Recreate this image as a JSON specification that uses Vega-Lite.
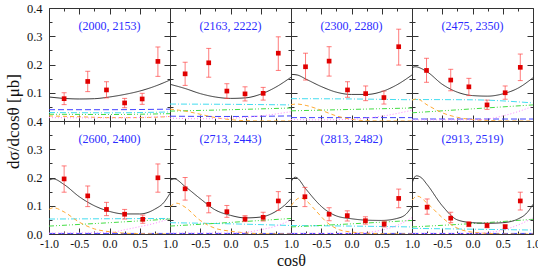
{
"$schema":"https://vega.github.io/schema/vega-lite/v6.json",
"background":"white",
"padding":{"left":3,"top":1,"right":0,"bottom":0},
"datasets":{
"curves":[
{"p":1,"s":"bl","c":-1,"v":0.040},{"p":1,"s":"bl","c":0,"v":0.040},{"p":1,"s":"bl","c":1,"v":0.042},
{"p":1,"s":"cy","c":-1,"v":0.030},{"p":1,"s":"cy","c":0,"v":0.029},{"p":1,"s":"cy","c":1,"v":0.032},
{"p":1,"s":"gr","c":-1,"v":0.024},{"p":1,"s":"gr","c":0,"v":0.023},{"p":1,"s":"gr","c":1,"v":0.026},
{"p":1,"s":"or","c":-1,"v":0.018},{"p":1,"s":"or","c":-0.5,"v":0.015},{"p":1,"s":"or","c":0,"v":0.012},{"p":1,"s":"or","c":0.5,"v":0.012},{"p":1,"s":"or","c":1,"v":0.016},
{"p":1,"s":"pk","c":-1,"v":0.012},{"p":1,"s":"pk","c":0,"v":0.011},{"p":1,"s":"pk","c":1,"v":0.016},
{"p":1,"s":"k","c":-1,"v":0.085},{"p":1,"s":"k","c":-0.75,"v":0.080},{"p":1,"s":"k","c":-0.5,"v":0.078},{"p":1,"s":"k","c":-0.25,"v":0.079},{"p":1,"s":"k","c":0,"v":0.085},{"p":1,"s":"k","c":0.25,"v":0.094},{"p":1,"s":"k","c":0.5,"v":0.106},{"p":1,"s":"k","c":0.75,"v":0.123},{"p":1,"s":"k","c":1,"v":0.145},

{"p":2,"s":"bl","c":-1,"v":0.017},{"p":2,"s":"bl","c":0,"v":0.016},{"p":2,"s":"bl","c":1,"v":0.018},
{"p":2,"s":"cy","c":-1,"v":0.060},{"p":2,"s":"cy","c":0,"v":0.059},{"p":2,"s":"cy","c":1,"v":0.057},
{"p":2,"s":"gr","c":-1,"v":0.035},{"p":2,"s":"gr","c":0,"v":0.040},{"p":2,"s":"gr","c":1,"v":0.046},
{"p":2,"s":"or","c":-1,"v":0.042},{"p":2,"s":"or","c":-0.75,"v":0.035},{"p":2,"s":"or","c":-0.5,"v":0.024},{"p":2,"s":"or","c":-0.25,"v":0.012},{"p":2,"s":"or","c":0,"v":0.005},{"p":2,"s":"or","c":0.25,"v":0.001},{"p":2,"s":"or","c":0.5,"v":0},{"p":2,"s":"or","c":1,"v":0},
{"p":2,"s":"pk","c":-1,"v":0.010},{"p":2,"s":"pk","c":-0.5,"v":0.008},{"p":2,"s":"pk","c":0,"v":0.010},{"p":2,"s":"pk","c":0.5,"v":0.018},{"p":2,"s":"pk","c":1,"v":0.033},
{"p":2,"s":"k","c":-1,"v":0.130},{"p":2,"s":"k","c":-0.75,"v":0.115},{"p":2,"s":"k","c":-0.5,"v":0.097},{"p":2,"s":"k","c":-0.25,"v":0.085},{"p":2,"s":"k","c":0,"v":0.080},{"p":2,"s":"k","c":0.25,"v":0.082},{"p":2,"s":"k","c":0.5,"v":0.095},{"p":2,"s":"k","c":0.75,"v":0.120},{"p":2,"s":"k","c":1,"v":0.155},

{"p":3,"s":"bl","c":-1,"v":0.012},{"p":3,"s":"bl","c":0,"v":0.012},{"p":3,"s":"bl","c":1,"v":0.012},
{"p":3,"s":"cy","c":-1,"v":0.079},{"p":3,"s":"cy","c":0,"v":0.078},{"p":3,"s":"cy","c":1,"v":0.075},
{"p":3,"s":"gr","c":-1,"v":0.036},{"p":3,"s":"gr","c":0,"v":0.041},{"p":3,"s":"gr","c":1,"v":0.046},
{"p":3,"s":"or","c":-1,"v":0.058},{"p":3,"s":"or","c":-0.9,"v":0.060},{"p":3,"s":"or","c":-0.75,"v":0.055},{"p":3,"s":"or","c":-0.5,"v":0.038},{"p":3,"s":"or","c":-0.25,"v":0.018},{"p":3,"s":"or","c":0,"v":0.006},{"p":3,"s":"or","c":0.25,"v":0.001},{"p":3,"s":"or","c":0.5,"v":0},{"p":3,"s":"or","c":1,"v":0},
{"p":3,"s":"pk","c":-1,"v":0.005},{"p":3,"s":"pk","c":-0.5,"v":0.004},{"p":3,"s":"pk","c":0,"v":0.006},{"p":3,"s":"pk","c":0.5,"v":0.017},{"p":3,"s":"pk","c":1,"v":0.038},
{"p":3,"s":"k","c":-1,"v":0.165},{"p":3,"s":"k","c":-0.9,"v":0.163},{"p":3,"s":"k","c":-0.75,"v":0.148},{"p":3,"s":"k","c":-0.5,"v":0.122},{"p":3,"s":"k","c":-0.25,"v":0.102},{"p":3,"s":"k","c":0,"v":0.094},{"p":3,"s":"k","c":0.25,"v":0.094},{"p":3,"s":"k","c":0.5,"v":0.104},{"p":3,"s":"k","c":0.75,"v":0.128},{"p":3,"s":"k","c":1,"v":0.163},

{"p":4,"s":"bl","c":-1,"v":0.007},{"p":4,"s":"bl","c":0,"v":0.007},{"p":4,"s":"bl","c":1,"v":0.007},
{"p":4,"s":"cy","c":-1,"v":0.076},{"p":4,"s":"cy","c":0,"v":0.075},{"p":4,"s":"cy","c":1,"v":0.064},
{"p":4,"s":"gr","c":-1,"v":0.029},{"p":4,"s":"gr","c":0,"v":0.043},{"p":4,"s":"gr","c":1,"v":0.057},
{"p":4,"s":"or","c":-1,"v":0.074},{"p":4,"s":"or","c":-0.92,"v":0.078},{"p":4,"s":"or","c":-0.75,"v":0.057},{"p":4,"s":"or","c":-0.5,"v":0.029},{"p":4,"s":"or","c":-0.25,"v":0.013},{"p":4,"s":"or","c":0,"v":0.005},{"p":4,"s":"or","c":0.25,"v":0.002},{"p":4,"s":"or","c":0.5,"v":0},{"p":4,"s":"or","c":1,"v":0},
{"p":4,"s":"pk","c":-1,"v":0.004},{"p":4,"s":"pk","c":0,"v":0.004},{"p":4,"s":"pk","c":0.25,"v":0.007},{"p":4,"s":"pk","c":0.5,"v":0.018},{"p":4,"s":"pk","c":0.75,"v":0.033},{"p":4,"s":"pk","c":1,"v":0.052},
{"p":4,"s":"k","c":-1,"v":0.188},{"p":4,"s":"k","c":-0.95,"v":0.192},{"p":4,"s":"k","c":-0.75,"v":0.174},{"p":4,"s":"k","c":-0.5,"v":0.130},{"p":4,"s":"k","c":-0.25,"v":0.102},{"p":4,"s":"k","c":0,"v":0.090},{"p":4,"s":"k","c":0.25,"v":0.088},{"p":4,"s":"k","c":0.5,"v":0.096},{"p":4,"s":"k","c":0.75,"v":0.116},{"p":4,"s":"k","c":1,"v":0.153},

{"p":5,"s":"bl","c":-1,"v":0.002},{"p":5,"s":"bl","c":1,"v":0.002},
{"p":5,"s":"cy","c":-1,"v":0.053},{"p":5,"s":"cy","c":0,"v":0.054},{"p":5,"s":"cy","c":1,"v":0.055},
{"p":5,"s":"gr","c":-1,"v":0.028},{"p":5,"s":"gr","c":0,"v":0.040},{"p":5,"s":"gr","c":1,"v":0.053},
{"p":5,"s":"or","c":-1,"v":0.087},{"p":5,"s":"or","c":-0.93,"v":0.093},{"p":5,"s":"or","c":-0.75,"v":0.078},{"p":5,"s":"or","c":-0.5,"v":0.042},{"p":5,"s":"or","c":-0.25,"v":0.018},{"p":5,"s":"or","c":0,"v":0.008},{"p":5,"s":"or","c":0.25,"v":0.003},{"p":5,"s":"or","c":0.5,"v":0.001},{"p":5,"s":"or","c":1,"v":0},
{"p":5,"s":"pk","c":-1,"v":0.003},{"p":5,"s":"pk","c":0,"v":0.005},{"p":5,"s":"pk","c":0.25,"v":0.015},{"p":5,"s":"pk","c":0.5,"v":0.026},{"p":5,"s":"pk","c":0.75,"v":0.038},{"p":5,"s":"pk","c":1,"v":0.055},
{"p":5,"s":"k","c":-1,"v":0.190},{"p":5,"s":"k","c":-0.93,"v":0.195},{"p":5,"s":"k","c":-0.75,"v":0.175},{"p":5,"s":"k","c":-0.5,"v":0.132},{"p":5,"s":"k","c":-0.25,"v":0.100},{"p":5,"s":"k","c":0,"v":0.080},{"p":5,"s":"k","c":0.25,"v":0.071},{"p":5,"s":"k","c":0.5,"v":0.071},{"p":5,"s":"k","c":0.75,"v":0.088},{"p":5,"s":"k","c":0.9,"v":0.112},{"p":5,"s":"k","c":1,"v":0.144},

{"p":6,"s":"bl","c":-1,"v":0.002},{"p":6,"s":"bl","c":1,"v":0.002},
{"p":6,"s":"cy","c":-1,"v":0.040},{"p":6,"s":"cy","c":0,"v":0.036},{"p":6,"s":"cy","c":1,"v":0.030},
{"p":6,"s":"gr","c":-1,"v":0.028},{"p":6,"s":"gr","c":0,"v":0.041},{"p":6,"s":"gr","c":1,"v":0.055},
{"p":6,"s":"or","c":-1,"v":0.097},{"p":6,"s":"or","c":-0.89,"v":0.109},{"p":6,"s":"or","c":-0.75,"v":0.095},{"p":6,"s":"or","c":-0.5,"v":0.048},{"p":6,"s":"or","c":-0.25,"v":0.020},{"p":6,"s":"or","c":0,"v":0.010},{"p":6,"s":"or","c":0.25,"v":0.004},{"p":6,"s":"or","c":0.5,"v":0.001},{"p":6,"s":"or","c":1,"v":0},
{"p":6,"s":"pk","c":-1,"v":0.003},{"p":6,"s":"pk","c":0,"v":0.003},{"p":6,"s":"pk","c":0.25,"v":0.006},{"p":6,"s":"pk","c":0.5,"v":0.015},{"p":6,"s":"pk","c":0.75,"v":0.028},{"p":6,"s":"pk","c":1,"v":0.050},
{"p":6,"s":"k","c":-1,"v":0.190},{"p":6,"s":"k","c":-0.93,"v":0.195},{"p":6,"s":"k","c":-0.75,"v":0.168},{"p":6,"s":"k","c":-0.5,"v":0.125},{"p":6,"s":"k","c":-0.25,"v":0.085},{"p":6,"s":"k","c":0,"v":0.066},{"p":6,"s":"k","c":0.25,"v":0.057},{"p":6,"s":"k","c":0.5,"v":0.060},{"p":6,"s":"k","c":0.75,"v":0.080},{"p":6,"s":"k","c":0.9,"v":0.103},{"p":6,"s":"k","c":1,"v":0.125},

{"p":7,"s":"bl","c":-1,"v":0.002},{"p":7,"s":"bl","c":1,"v":0.002},
{"p":7,"s":"cy","c":-1,"v":0.030},{"p":7,"s":"cy","c":0,"v":0.028},{"p":7,"s":"cy","c":1,"v":0.025},
{"p":7,"s":"gr","c":-1,"v":0.025},{"p":7,"s":"gr","c":0,"v":0.036},{"p":7,"s":"gr","c":1,"v":0.048},
{"p":7,"s":"or","c":-1,"v":0.100},{"p":7,"s":"or","c":-0.85,"v":0.128},{"p":7,"s":"or","c":-0.75,"v":0.118},{"p":7,"s":"or","c":-0.6,"v":0.085},{"p":7,"s":"or","c":-0.4,"v":0.040},{"p":7,"s":"or","c":-0.2,"v":0.015},{"p":7,"s":"or","c":0,"v":0.007},{"p":7,"s":"or","c":0.25,"v":0.003},{"p":7,"s":"or","c":0.5,"v":0.001},{"p":7,"s":"or","c":1,"v":0},
{"p":7,"s":"pk","c":-1,"v":0.002},{"p":7,"s":"pk","c":0,"v":0.002},{"p":7,"s":"pk","c":0.25,"v":0.005},{"p":7,"s":"pk","c":0.5,"v":0.014},{"p":7,"s":"pk","c":0.75,"v":0.030},{"p":7,"s":"pk","c":1,"v":0.058},
{"p":7,"s":"k","c":-1,"v":0.185},{"p":7,"s":"k","c":-0.93,"v":0.201},{"p":7,"s":"k","c":-0.75,"v":0.158},{"p":7,"s":"k","c":-0.6,"v":0.120},{"p":7,"s":"k","c":-0.5,"v":0.098},{"p":7,"s":"k","c":-0.25,"v":0.064},{"p":7,"s":"k","c":0,"v":0.054},{"p":7,"s":"k","c":0.25,"v":0.049},{"p":7,"s":"k","c":0.5,"v":0.048},{"p":7,"s":"k","c":0.75,"v":0.055},{"p":7,"s":"k","c":0.9,"v":0.070},{"p":7,"s":"k","c":1,"v":0.097},

{"p":8,"s":"bl","c":-1,"v":0.002},{"p":8,"s":"bl","c":1,"v":0.002},
{"p":8,"s":"cy","c":-1,"v":0.020},{"p":8,"s":"cy","c":0,"v":0.017},{"p":8,"s":"cy","c":1,"v":0.014},
{"p":8,"s":"gr","c":-1,"v":0.025},{"p":8,"s":"gr","c":0,"v":0.037},{"p":8,"s":"gr","c":1,"v":0.052},
{"p":8,"s":"or","c":-1,"v":0.120},{"p":8,"s":"or","c":-0.91,"v":0.134},{"p":8,"s":"or","c":-0.75,"v":0.109},{"p":8,"s":"or","c":-0.5,"v":0.058},{"p":8,"s":"or","c":-0.3,"v":0.026},{"p":8,"s":"or","c":-0.1,"v":0.010},{"p":8,"s":"or","c":0.25,"v":0.002},{"p":8,"s":"or","c":0.5,"v":0},{"p":8,"s":"or","c":1,"v":0},
{"p":8,"s":"pk","c":-1,"v":0.002},{"p":8,"s":"pk","c":0,"v":0.002},{"p":8,"s":"pk","c":0.3,"v":0.006},{"p":8,"s":"pk","c":0.6,"v":0.020},{"p":8,"s":"pk","c":0.8,"v":0.036},{"p":8,"s":"pk","c":1,"v":0.057},
{"p":8,"s":"k","c":-1,"v":0.180},{"p":8,"s":"k","c":-0.93,"v":0.206},{"p":8,"s":"k","c":-0.85,"v":0.200},{"p":8,"s":"k","c":-0.75,"v":0.175},{"p":8,"s":"k","c":-0.5,"v":0.100},{"p":8,"s":"k","c":-0.25,"v":0.050},{"p":8,"s":"k","c":0,"v":0.040},{"p":8,"s":"k","c":0.25,"v":0.038},{"p":8,"s":"k","c":0.5,"v":0.040},{"p":8,"s":"k","c":0.75,"v":0.053},{"p":8,"s":"k","c":0.9,"v":0.075},{"p":8,"s":"k","c":1,"v":0.105}
],
"pts":[
{"p":1,"c":-0.75,"v":0.079,"lo":0.058,"hi":0.100},{"p":1,"c":-0.36,"v":0.140,"lo":0.104,"hi":0.176},{"p":1,"c":-0.05,"v":0.110,"lo":0.082,"hi":0.139},{"p":1,"c":0.25,"v":0.064,"lo":0.047,"hi":0.080},{"p":1,"c":0.54,"v":0.078,"lo":0.059,"hi":0.098},{"p":1,"c":0.8,"v":0.211,"lo":0.158,"hi":0.262},
{"p":2,"c":-0.75,"v":0.167,"lo":0.126,"hi":0.208},{"p":2,"c":-0.36,"v":0.206,"lo":0.155,"hi":0.257},{"p":2,"c":-0.06,"v":0.106,"lo":0.080,"hi":0.132},{"p":2,"c":0.24,"v":0.096,"lo":0.071,"hi":0.121},{"p":2,"c":0.54,"v":0.098,"lo":0.074,"hi":0.119},{"p":2,"c":0.79,"v":0.240,"lo":0.179,"hi":0.298},
{"p":3,"c":-0.76,"v":0.192,"lo":0.145,"hi":0.240},{"p":3,"c":-0.37,"v":0.212,"lo":0.159,"hi":0.263},{"p":3,"c":-0.066,"v":0.110,"lo":0.084,"hi":0.139},{"p":3,"c":0.234,"v":0.097,"lo":0.072,"hi":0.124},{"p":3,"c":0.536,"v":0.083,"lo":0.060,"hi":0.106},{"p":3,"c":0.78,"v":0.263,"lo":0.198,"hi":0.325},
{"p":4,"c":-0.76,"v":0.179,"lo":0.137,"hi":0.222},{"p":4,"c":-0.36,"v":0.145,"lo":0.107,"hi":0.183},{"p":4,"c":-0.06,"v":0.121,"lo":0.090,"hi":0.151},{"p":4,"c":0.24,"v":0.057,"lo":0.041,"hi":0.074},{"p":4,"c":0.54,"v":0.100,"lo":0.077,"hi":0.124},{"p":4,"c":0.79,"v":0.190,"lo":0.143,"hi":0.237},
{"p":5,"c":-0.75,"v":0.195,"lo":0.148,"hi":0.241},{"p":5,"c":-0.36,"v":0.135,"lo":0.097,"hi":0.170},{"p":5,"c":-0.05,"v":0.087,"lo":0.065,"hi":0.112},{"p":5,"c":0.25,"v":0.070,"lo":0.053,"hi":0.087},{"p":5,"c":0.55,"v":0.052,"lo":0.038,"hi":0.067},{"p":5,"c":0.8,"v":0.199,"lo":0.148,"hi":0.248},
{"p":6,"c":-0.75,"v":0.160,"lo":0.120,"hi":0.200},{"p":6,"c":-0.36,"v":0.105,"lo":0.075,"hi":0.135},{"p":6,"c":-0.06,"v":0.079,"lo":0.059,"hi":0.101},{"p":6,"c":0.24,"v":0.053,"lo":0.044,"hi":0.065},{"p":6,"c":0.54,"v":0.059,"lo":0.046,"hi":0.077},{"p":6,"c":0.79,"v":0.117,"lo":0.083,"hi":0.150},
{"p":7,"c":-0.77,"v":0.132,"lo":0.097,"hi":0.165},{"p":7,"c":-0.37,"v":0.070,"lo":0.047,"hi":0.093},{"p":7,"c":-0.07,"v":0.065,"lo":0.046,"hi":0.082},{"p":7,"c":0.23,"v":0.047,"lo":0.035,"hi":0.061},{"p":7,"c":0.54,"v":0.035,"lo":0.025,"hi":0.046},{"p":7,"c":0.78,"v":0.126,"lo":0.093,"hi":0.159},
{"p":8,"c":-0.75,"v":0.095,"lo":0.070,"hi":0.124},{"p":8,"c":-0.36,"v":0.056,"lo":0.040,"hi":0.077},{"p":8,"c":-0.06,"v":0.034,"lo":0.026,"hi":0.044},{"p":8,"c":0.24,"v":0.030,"lo":0.022,"hi":0.038},{"p":8,"c":0.54,"v":0.026,"lo":0.019,"hi":0.032},{"p":8,"c":0.79,"v":0.117,"lo":0.085,"hi":0.148}
],
"labels":[
{"p":1,"lab":"(2000, 2153)"},{"p":2,"lab":"(2163, 2222)"},{"p":3,"lab":"(2300, 2280)"},{"p":4,"lab":"(2475, 2350)"},
{"p":5,"lab":"(2600, 2400)"},{"p":6,"lab":"(2713, 2443)"},{"p":7,"lab":"(2813, 2482)"},{"p":8,"lab":"(2913, 2519)"}
]
},
"columns":4,
"spacing":0,
"bounds":"flush",
"concat":[
{"width":121,"height":113,"layer":[
{"data":{"name":"curves"},"transform":[{"filter":"datum.p==1"}],"mark":{"type":"line","interpolate":"monotone","strokeWidth":1,"clip":true},
"encoding":{"x":{"field":"c","type":"quantitative","scale":{"domain":[-1,1],"nice":false,"zero":false},"axis":{"orient":"bottom","values":[-1,-0.75,-0.5,-0.25,0,0.25,0.5,0.75,1],"labels":false,"title":null,"tickSize":{"condition":{"test":"abs(datum.value*2-round(datum.value*2))<0.001","value":-6},"value":-3}}},
"y":{"field":"v","type":"quantitative","scale":{"domain":[0,0.4],"nice":false,"zero":false},"axis":{"orient":"left","values":[0,0.05,0.1,0.15,0.2,0.25,0.3,0.35,0.4],"labelExpr":"datum.value<0.01 || abs(datum.value*10-round(datum.value*10))>0.001 ? '' : format(datum.value,'.1f')","title":"dσ/dcosθ [μb]","titleY":113,"titleFontSize":17,"tickSize":{"condition":{"test":"abs(datum.value*10-round(datum.value*10))<0.001","value":-6},"value":-3}}},
"color":{"field":"s","type":"nominal","scale":{"domain":["bl","cy","gr","or","pk","k"],"range":["#4444ff","#44ddf0","#44dd44","#ffaa33","#ff88ff","#333333"]},"legend":null},
"strokeDash":{"field":"s","type":"nominal","scale":{"domain":["bl","cy","gr","or","pk","k"],"range":[[6,3],[6,2,1,2],[5,2,1,2,1,2],[4,3],[1,2],[1,0]]},"legend":null}}},
{"data":{"name":"pts"},"transform":[{"filter":"datum.p==1"}],"mark":{"type":"errorbar","ticks":true,"color":"#ff4444","opacity":0.7},"encoding":{"x":{"field":"c","type":"quantitative","axis":null},"y":{"field":"lo","type":"quantitative","axis":null},"y2":{"field":"hi"}}},
{"data":{"name":"pts"},"transform":[{"filter":"datum.p==1"}],"mark":{"type":"point","shape":"square","filled":true,"size":22,"color":"#e00000","opacity":1},"encoding":{"x":{"field":"c","type":"quantitative","axis":null},"y":{"field":"v","type":"quantitative","axis":null}}},
{"data":{"name":"labels"},"transform":[{"filter":"datum.p==1"}],"mark":{"type":"text","font":"Liberation Serif","fontSize":12,"color":"#2b2bff"},"encoding":{"text":{"field":"lab"},
"x":{"datum":0,"type":"quantitative","axis":{"orient":"top","values":[-1,-0.75,-0.5,-0.25,0,0.25,0.5,0.75,1],"labels":false,"title":null,"tickSize":{"condition":{"test":"abs(datum.value*2-round(datum.value*2))<0.001","value":-6},"value":-3}}},
"y":{"datum":0.335,"type":"quantitative","axis":{"orient":"right","values":[0,0.05,0.1,0.15,0.2,0.25,0.3,0.35,0.4],"labels":false,"title":null,"tickSize":{"condition":{"test":"abs(datum.value*10-round(datum.value*10))<0.001","value":-6},"value":-3}}}}}
],"resolve":{"axis":{"x":"independent","y":"independent"}}},

{"width":121,"height":113,"layer":[
{"data":{"name":"curves"},"transform":[{"filter":"datum.p==2"}],"mark":{"type":"line","interpolate":"monotone","strokeWidth":1,"clip":true},
"encoding":{"x":{"field":"c","type":"quantitative","scale":{"domain":[-1,1],"nice":false,"zero":false},"axis":{"orient":"bottom","values":[-1,-0.75,-0.5,-0.25,0,0.25,0.5,0.75,1],"labels":false,"title":null,"tickSize":{"condition":{"test":"abs(datum.value*2-round(datum.value*2))<0.001","value":-6},"value":-3}}},
"y":{"field":"v","type":"quantitative","scale":{"domain":[0,0.4],"nice":false,"zero":false},"axis":{"orient":"left","values":[0,0.05,0.1,0.15,0.2,0.25,0.3,0.35,0.4],"labels":false,"title":null,"tickSize":{"condition":{"test":"abs(datum.value*10-round(datum.value*10))<0.001","value":-6},"value":-3}}},
"color":{"field":"s","type":"nominal","scale":{"domain":["bl","cy","gr","or","pk","k"],"range":["#4444ff","#44ddf0","#44dd44","#ffaa33","#ff88ff","#333333"]},"legend":null},
"strokeDash":{"field":"s","type":"nominal","scale":{"domain":["bl","cy","gr","or","pk","k"],"range":[[6,3],[6,2,1,2],[5,2,1,2,1,2],[4,3],[1,2],[1,0]]},"legend":null}}},
{"data":{"name":"pts"},"transform":[{"filter":"datum.p==2"}],"mark":{"type":"errorbar","ticks":true,"color":"#ff4444","opacity":0.7},"encoding":{"x":{"field":"c","type":"quantitative","axis":null},"y":{"field":"lo","type":"quantitative","axis":null},"y2":{"field":"hi"}}},
{"data":{"name":"pts"},"transform":[{"filter":"datum.p==2"}],"mark":{"type":"point","shape":"square","filled":true,"size":22,"color":"#e00000","opacity":1},"encoding":{"x":{"field":"c","type":"quantitative","axis":null},"y":{"field":"v","type":"quantitative","axis":null}}},
{"data":{"name":"labels"},"transform":[{"filter":"datum.p==2"}],"mark":{"type":"text","font":"Liberation Serif","fontSize":12,"color":"#2b2bff"},"encoding":{"text":{"field":"lab"},
"x":{"datum":0,"type":"quantitative","axis":{"orient":"top","values":[-1,-0.75,-0.5,-0.25,0,0.25,0.5,0.75,1],"labels":false,"title":null,"tickSize":{"condition":{"test":"abs(datum.value*2-round(datum.value*2))<0.001","value":-6},"value":-3}}},
"y":{"datum":0.335,"type":"quantitative","axis":{"orient":"right","values":[0,0.05,0.1,0.15,0.2,0.25,0.3,0.35,0.4],"labels":false,"title":null,"tickSize":{"condition":{"test":"abs(datum.value*10-round(datum.value*10))<0.001","value":-6},"value":-3}}}}}
],"resolve":{"axis":{"x":"independent","y":"independent"}}},

{"width":121,"height":113,"layer":[
{"data":{"name":"curves"},"transform":[{"filter":"datum.p==3"}],"mark":{"type":"line","interpolate":"monotone","strokeWidth":1,"clip":true},
"encoding":{"x":{"field":"c","type":"quantitative","scale":{"domain":[-1,1],"nice":false,"zero":false},"axis":{"orient":"bottom","values":[-1,-0.75,-0.5,-0.25,0,0.25,0.5,0.75,1],"labels":false,"title":null,"tickSize":{"condition":{"test":"abs(datum.value*2-round(datum.value*2))<0.001","value":-6},"value":-3}}},
"y":{"field":"v","type":"quantitative","scale":{"domain":[0,0.4],"nice":false,"zero":false},"axis":{"orient":"left","values":[0,0.05,0.1,0.15,0.2,0.25,0.3,0.35,0.4],"labels":false,"title":null,"tickSize":{"condition":{"test":"abs(datum.value*10-round(datum.value*10))<0.001","value":-6},"value":-3}}},
"color":{"field":"s","type":"nominal","scale":{"domain":["bl","cy","gr","or","pk","k"],"range":["#4444ff","#44ddf0","#44dd44","#ffaa33","#ff88ff","#333333"]},"legend":null},
"strokeDash":{"field":"s","type":"nominal","scale":{"domain":["bl","cy","gr","or","pk","k"],"range":[[6,3],[6,2,1,2],[5,2,1,2,1,2],[4,3],[1,2],[1,0]]},"legend":null}}},
{"data":{"name":"pts"},"transform":[{"filter":"datum.p==3"}],"mark":{"type":"errorbar","ticks":true,"color":"#ff4444","opacity":0.7},"encoding":{"x":{"field":"c","type":"quantitative","axis":null},"y":{"field":"lo","type":"quantitative","axis":null},"y2":{"field":"hi"}}},
{"data":{"name":"pts"},"transform":[{"filter":"datum.p==3"}],"mark":{"type":"point","shape":"square","filled":true,"size":22,"color":"#e00000","opacity":1},"encoding":{"x":{"field":"c","type":"quantitative","axis":null},"y":{"field":"v","type":"quantitative","axis":null}}},
{"data":{"name":"labels"},"transform":[{"filter":"datum.p==3"}],"mark":{"type":"text","font":"Liberation Serif","fontSize":12,"color":"#2b2bff"},"encoding":{"text":{"field":"lab"},
"x":{"datum":0,"type":"quantitative","axis":{"orient":"top","values":[-1,-0.75,-0.5,-0.25,0,0.25,0.5,0.75,1],"labels":false,"title":null,"tickSize":{"condition":{"test":"abs(datum.value*2-round(datum.value*2))<0.001","value":-6},"value":-3}}},
"y":{"datum":0.335,"type":"quantitative","axis":{"orient":"right","values":[0,0.05,0.1,0.15,0.2,0.25,0.3,0.35,0.4],"labels":false,"title":null,"tickSize":{"condition":{"test":"abs(datum.value*10-round(datum.value*10))<0.001","value":-6},"value":-3}}}}}
],"resolve":{"axis":{"x":"independent","y":"independent"}}},

{"width":121,"height":113,"layer":[
{"data":{"name":"curves"},"transform":[{"filter":"datum.p==4"}],"mark":{"type":"line","interpolate":"monotone","strokeWidth":1,"clip":true},
"encoding":{"x":{"field":"c","type":"quantitative","scale":{"domain":[-1,1],"nice":false,"zero":false},"axis":{"orient":"bottom","values":[-1,-0.75,-0.5,-0.25,0,0.25,0.5,0.75,1],"labels":false,"title":null,"tickSize":{"condition":{"test":"abs(datum.value*2-round(datum.value*2))<0.001","value":-6},"value":-3}}},
"y":{"field":"v","type":"quantitative","scale":{"domain":[0,0.4],"nice":false,"zero":false},"axis":{"orient":"left","values":[0,0.05,0.1,0.15,0.2,0.25,0.3,0.35,0.4],"labels":false,"title":null,"tickSize":{"condition":{"test":"abs(datum.value*10-round(datum.value*10))<0.001","value":-6},"value":-3}}},
"color":{"field":"s","type":"nominal","scale":{"domain":["bl","cy","gr","or","pk","k"],"range":["#4444ff","#44ddf0","#44dd44","#ffaa33","#ff88ff","#333333"]},"legend":null},
"strokeDash":{"field":"s","type":"nominal","scale":{"domain":["bl","cy","gr","or","pk","k"],"range":[[6,3],[6,2,1,2],[5,2,1,2,1,2],[4,3],[1,2],[1,0]]},"legend":null}}},
{"data":{"name":"pts"},"transform":[{"filter":"datum.p==4"}],"mark":{"type":"errorbar","ticks":true,"color":"#ff4444","opacity":0.7},"encoding":{"x":{"field":"c","type":"quantitative","axis":null},"y":{"field":"lo","type":"quantitative","axis":null},"y2":{"field":"hi"}}},
{"data":{"name":"pts"},"transform":[{"filter":"datum.p==4"}],"mark":{"type":"point","shape":"square","filled":true,"size":22,"color":"#e00000","opacity":1},"encoding":{"x":{"field":"c","type":"quantitative","axis":null},"y":{"field":"v","type":"quantitative","axis":null}}},
{"data":{"name":"labels"},"transform":[{"filter":"datum.p==4"}],"mark":{"type":"text","font":"Liberation Serif","fontSize":12,"color":"#2b2bff"},"encoding":{"text":{"field":"lab"},
"x":{"datum":0,"type":"quantitative","axis":{"orient":"top","values":[-1,-0.75,-0.5,-0.25,0,0.25,0.5,0.75,1],"labels":false,"title":null,"tickSize":{"condition":{"test":"abs(datum.value*2-round(datum.value*2))<0.001","value":-6},"value":-3}}},
"y":{"datum":0.335,"type":"quantitative","axis":{"orient":"right","values":[0,0.05,0.1,0.15,0.2,0.25,0.3,0.35,0.4],"labels":false,"title":null,"tickSize":{"condition":{"test":"abs(datum.value*10-round(datum.value*10))<0.001","value":-6},"value":-3}}}}}
],"resolve":{"axis":{"x":"independent","y":"independent"}}},

{"width":121,"height":113,"layer":[
{"data":{"name":"curves"},"transform":[{"filter":"datum.p==5"}],"mark":{"type":"line","interpolate":"monotone","strokeWidth":1,"clip":true},
"encoding":{"x":{"field":"c","type":"quantitative","scale":{"domain":[-1,1],"nice":false,"zero":false},"axis":{"orient":"bottom","values":[-1,-0.75,-0.5,-0.25,0,0.25,0.5,0.75,1],"labelExpr":"abs(datum.value*2-round(datum.value*2))>0.001 ? '' : replace(format(datum.value,'.1f'),'\u2212','-')","title":null,"tickSize":{"condition":{"test":"abs(datum.value*2-round(datum.value*2))<0.001","value":-6},"value":-3}}},
"y":{"field":"v","type":"quantitative","scale":{"domain":[0,0.4],"nice":false,"zero":false},"axis":{"orient":"left","values":[0,0.05,0.1,0.15,0.2,0.25,0.3,0.35,0.4],"labelExpr":"abs(datum.value*10-round(datum.value*10))>0.001 ? '' : format(datum.value,'.1f')","title":null,"tickSize":{"condition":{"test":"abs(datum.value*10-round(datum.value*10))<0.001","value":-6},"value":-3}}},
"color":{"field":"s","type":"nominal","scale":{"domain":["bl","cy","gr","or","pk","k"],"range":["#4444ff","#44ddf0","#44dd44","#ffaa33","#ff88ff","#333333"]},"legend":null},
"strokeDash":{"field":"s","type":"nominal","scale":{"domain":["bl","cy","gr","or","pk","k"],"range":[[6,3],[6,2,1,2],[5,2,1,2,1,2],[4,3],[1,2],[1,0]]},"legend":null}}},
{"data":{"name":"pts"},"transform":[{"filter":"datum.p==5"}],"mark":{"type":"errorbar","ticks":true,"color":"#ff4444","opacity":0.7},"encoding":{"x":{"field":"c","type":"quantitative","axis":null},"y":{"field":"lo","type":"quantitative","axis":null},"y2":{"field":"hi"}}},
{"data":{"name":"pts"},"transform":[{"filter":"datum.p==5"}],"mark":{"type":"point","shape":"square","filled":true,"size":22,"color":"#e00000","opacity":1},"encoding":{"x":{"field":"c","type":"quantitative","axis":null},"y":{"field":"v","type":"quantitative","axis":null}}},
{"data":{"name":"labels"},"transform":[{"filter":"datum.p==5"}],"mark":{"type":"text","font":"Liberation Serif","fontSize":12,"color":"#2b2bff"},"encoding":{"text":{"field":"lab"},
"x":{"datum":0,"type":"quantitative","axis":{"orient":"top","values":[-1,-0.75,-0.5,-0.25,0,0.25,0.5,0.75,1],"labels":false,"title":null,"tickSize":{"condition":{"test":"abs(datum.value*2-round(datum.value*2))<0.001","value":-6},"value":-3}}},
"y":{"datum":0.335,"type":"quantitative","axis":{"orient":"right","values":[0,0.05,0.1,0.15,0.2,0.25,0.3,0.35,0.4],"labels":false,"title":null,"tickSize":{"condition":{"test":"abs(datum.value*10-round(datum.value*10))<0.001","value":-6},"value":-3}}}}}
],"resolve":{"axis":{"x":"independent","y":"independent"}}},

{"width":121,"height":113,"layer":[
{"data":{"name":"curves"},"transform":[{"filter":"datum.p==6"}],"mark":{"type":"line","interpolate":"monotone","strokeWidth":1,"clip":true},
"encoding":{"x":{"field":"c","type":"quantitative","scale":{"domain":[-1,1],"nice":false,"zero":false},"axis":{"orient":"bottom","values":[-1,-0.75,-0.5,-0.25,0,0.25,0.5,0.75,1],"labelExpr":"datum.value<-0.99 || abs(datum.value*2-round(datum.value*2))>0.001 ? '' : replace(format(datum.value,'.1f'),'\u2212','-')","title":"cosθ","titleX":121,"titleFontSize":16,"tickSize":{"condition":{"test":"abs(datum.value*2-round(datum.value*2))<0.001","value":-6},"value":-3}}},
"y":{"field":"v","type":"quantitative","scale":{"domain":[0,0.4],"nice":false,"zero":false},"axis":{"orient":"left","values":[0,0.05,0.1,0.15,0.2,0.25,0.3,0.35,0.4],"labels":false,"title":null,"tickSize":{"condition":{"test":"abs(datum.value*10-round(datum.value*10))<0.001","value":-6},"value":-3}}},
"color":{"field":"s","type":"nominal","scale":{"domain":["bl","cy","gr","or","pk","k"],"range":["#4444ff","#44ddf0","#44dd44","#ffaa33","#ff88ff","#333333"]},"legend":null},
"strokeDash":{"field":"s","type":"nominal","scale":{"domain":["bl","cy","gr","or","pk","k"],"range":[[6,3],[6,2,1,2],[5,2,1,2,1,2],[4,3],[1,2],[1,0]]},"legend":null}}},
{"data":{"name":"pts"},"transform":[{"filter":"datum.p==6"}],"mark":{"type":"errorbar","ticks":true,"color":"#ff4444","opacity":0.7},"encoding":{"x":{"field":"c","type":"quantitative","axis":null},"y":{"field":"lo","type":"quantitative","axis":null},"y2":{"field":"hi"}}},
{"data":{"name":"pts"},"transform":[{"filter":"datum.p==6"}],"mark":{"type":"point","shape":"square","filled":true,"size":22,"color":"#e00000","opacity":1},"encoding":{"x":{"field":"c","type":"quantitative","axis":null},"y":{"field":"v","type":"quantitative","axis":null}}},
{"data":{"name":"labels"},"transform":[{"filter":"datum.p==6"}],"mark":{"type":"text","font":"Liberation Serif","fontSize":12,"color":"#2b2bff"},"encoding":{"text":{"field":"lab"},
"x":{"datum":0,"type":"quantitative","axis":{"orient":"top","values":[-1,-0.75,-0.5,-0.25,0,0.25,0.5,0.75,1],"labels":false,"title":null,"tickSize":{"condition":{"test":"abs(datum.value*2-round(datum.value*2))<0.001","value":-6},"value":-3}}},
"y":{"datum":0.335,"type":"quantitative","axis":{"orient":"right","values":[0,0.05,0.1,0.15,0.2,0.25,0.3,0.35,0.4],"labels":false,"title":null,"tickSize":{"condition":{"test":"abs(datum.value*10-round(datum.value*10))<0.001","value":-6},"value":-3}}}}}
],"resolve":{"axis":{"x":"independent","y":"independent"}}},

{"width":121,"height":113,"layer":[
{"data":{"name":"curves"},"transform":[{"filter":"datum.p==7"}],"mark":{"type":"line","interpolate":"monotone","strokeWidth":1,"clip":true},
"encoding":{"x":{"field":"c","type":"quantitative","scale":{"domain":[-1,1],"nice":false,"zero":false},"axis":{"orient":"bottom","values":[-1,-0.75,-0.5,-0.25,0,0.25,0.5,0.75,1],"labelExpr":"datum.value<-0.99 || abs(datum.value*2-round(datum.value*2))>0.001 ? '' : replace(format(datum.value,'.1f'),'\u2212','-')","title":null,"tickSize":{"condition":{"test":"abs(datum.value*2-round(datum.value*2))<0.001","value":-6},"value":-3}}},
"y":{"field":"v","type":"quantitative","scale":{"domain":[0,0.4],"nice":false,"zero":false},"axis":{"orient":"left","values":[0,0.05,0.1,0.15,0.2,0.25,0.3,0.35,0.4],"labels":false,"title":null,"tickSize":{"condition":{"test":"abs(datum.value*10-round(datum.value*10))<0.001","value":-6},"value":-3}}},
"color":{"field":"s","type":"nominal","scale":{"domain":["bl","cy","gr","or","pk","k"],"range":["#4444ff","#44ddf0","#44dd44","#ffaa33","#ff88ff","#333333"]},"legend":null},
"strokeDash":{"field":"s","type":"nominal","scale":{"domain":["bl","cy","gr","or","pk","k"],"range":[[6,3],[6,2,1,2],[5,2,1,2,1,2],[4,3],[1,2],[1,0]]},"legend":null}}},
{"data":{"name":"pts"},"transform":[{"filter":"datum.p==7"}],"mark":{"type":"errorbar","ticks":true,"color":"#ff4444","opacity":0.7},"encoding":{"x":{"field":"c","type":"quantitative","axis":null},"y":{"field":"lo","type":"quantitative","axis":null},"y2":{"field":"hi"}}},
{"data":{"name":"pts"},"transform":[{"filter":"datum.p==7"}],"mark":{"type":"point","shape":"square","filled":true,"size":22,"color":"#e00000","opacity":1},"encoding":{"x":{"field":"c","type":"quantitative","axis":null},"y":{"field":"v","type":"quantitative","axis":null}}},
{"data":{"name":"labels"},"transform":[{"filter":"datum.p==7"}],"mark":{"type":"text","font":"Liberation Serif","fontSize":12,"color":"#2b2bff"},"encoding":{"text":{"field":"lab"},
"x":{"datum":0,"type":"quantitative","axis":{"orient":"top","values":[-1,-0.75,-0.5,-0.25,0,0.25,0.5,0.75,1],"labels":false,"title":null,"tickSize":{"condition":{"test":"abs(datum.value*2-round(datum.value*2))<0.001","value":-6},"value":-3}}},
"y":{"datum":0.335,"type":"quantitative","axis":{"orient":"right","values":[0,0.05,0.1,0.15,0.2,0.25,0.3,0.35,0.4],"labels":false,"title":null,"tickSize":{"condition":{"test":"abs(datum.value*10-round(datum.value*10))<0.001","value":-6},"value":-3}}}}}
],"resolve":{"axis":{"x":"independent","y":"independent"}}},

{"width":121,"height":113,"layer":[
{"data":{"name":"curves"},"transform":[{"filter":"datum.p==8"}],"mark":{"type":"line","interpolate":"monotone","strokeWidth":1,"clip":true},
"encoding":{"x":{"field":"c","type":"quantitative","scale":{"domain":[-1,1],"nice":false,"zero":false},"axis":{"orient":"bottom","values":[-1,-0.75,-0.5,-0.25,0,0.25,0.5,0.75,1],"labelExpr":"datum.value<-0.99 || abs(datum.value*2-round(datum.value*2))>0.001 ? '' : replace(format(datum.value,'.1f'),'\u2212','-')","title":null,"tickSize":{"condition":{"test":"abs(datum.value*2-round(datum.value*2))<0.001","value":-6},"value":-3}}},
"y":{"field":"v","type":"quantitative","scale":{"domain":[0,0.4],"nice":false,"zero":false},"axis":{"orient":"left","values":[0,0.05,0.1,0.15,0.2,0.25,0.3,0.35,0.4],"labels":false,"title":null,"tickSize":{"condition":{"test":"abs(datum.value*10-round(datum.value*10))<0.001","value":-6},"value":-3}}},
"color":{"field":"s","type":"nominal","scale":{"domain":["bl","cy","gr","or","pk","k"],"range":["#4444ff","#44ddf0","#44dd44","#ffaa33","#ff88ff","#333333"]},"legend":null},
"strokeDash":{"field":"s","type":"nominal","scale":{"domain":["bl","cy","gr","or","pk","k"],"range":[[6,3],[6,2,1,2],[5,2,1,2,1,2],[4,3],[1,2],[1,0]]},"legend":null}}},
{"data":{"name":"pts"},"transform":[{"filter":"datum.p==8"}],"mark":{"type":"errorbar","ticks":true,"color":"#ff4444","opacity":0.7},"encoding":{"x":{"field":"c","type":"quantitative","axis":null},"y":{"field":"lo","type":"quantitative","axis":null},"y2":{"field":"hi"}}},
{"data":{"name":"pts"},"transform":[{"filter":"datum.p==8"}],"mark":{"type":"point","shape":"square","filled":true,"size":22,"color":"#e00000","opacity":1},"encoding":{"x":{"field":"c","type":"quantitative","axis":null},"y":{"field":"v","type":"quantitative","axis":null}}},
{"data":{"name":"labels"},"transform":[{"filter":"datum.p==8"}],"mark":{"type":"text","font":"Liberation Serif","fontSize":12,"color":"#2b2bff"},"encoding":{"text":{"field":"lab"},
"x":{"datum":0,"type":"quantitative","axis":{"orient":"top","values":[-1,-0.75,-0.5,-0.25,0,0.25,0.5,0.75,1],"labels":false,"title":null,"tickSize":{"condition":{"test":"abs(datum.value*2-round(datum.value*2))<0.001","value":-6},"value":-3}}},
"y":{"datum":0.335,"type":"quantitative","axis":{"orient":"right","values":[0,0.05,0.1,0.15,0.2,0.25,0.3,0.35,0.4],"labels":false,"title":null,"tickSize":{"condition":{"test":"abs(datum.value*10-round(datum.value*10))<0.001","value":-6},"value":-3}}}}}
],"resolve":{"axis":{"x":"independent","y":"independent"}}}
],
"config":{
"view":{"stroke":"#333333","strokeWidth":1},
"axis":{"domain":false,"grid":false,"tickColor":"#333333","tickWidth":1,"labelFont":"Liberation Serif","labelFontSize":12.5,"labelColor":"#111111","labelFlush":false,"labelOverlap":false,"titleFont":"Liberation Serif","titleFontWeight":"normal","titleColor":"#111111"},
"axisX":{"labelPadding":10,"titlePadding":0,"labelFontSize":12},
"axisY":{"labelPadding":13,"titlePadding":4},
"errorbar":{"ticks":true},
"font":"Liberation Serif"
}
}
